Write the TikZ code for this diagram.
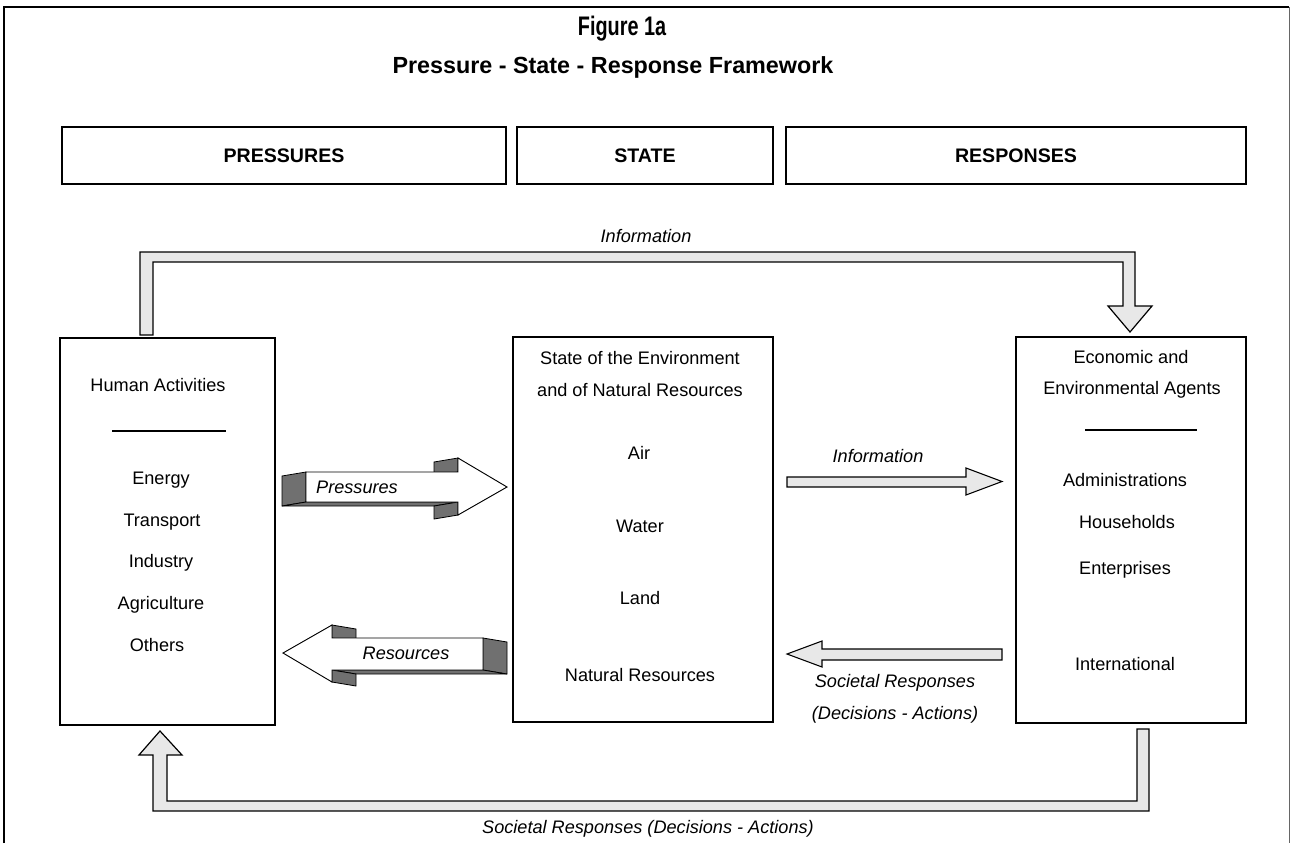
\documentclass[tikz,border=0pt]{standalone}
\usepackage{fontspec}
\setmainfont{Liberation Sans}
\definecolor{lightfill}{HTML}{E8E8E8}
\definecolor{darkface}{HTML}{707070}
\begin{document}
\begin{tikzpicture}[x=0.75pt,y=-0.75pt,
  txt/.style={font=\fontsize{13.6}{16}\selectfont, inner sep=0pt},
  itx/.style={font=\fontsize{13.6}{16}\selectfont\itshape, inner sep=0pt},
  ttl/.style={font=\fontsize{17.5}{20}\selectfont\bfseries, inner sep=0pt},
  hdr/.style={draw, line width=0.9pt, font=\fontsize{14.7}{17}\selectfont\bfseries, minimum height=42.75pt, inner sep=0pt},
  bigbox/.style={draw, line width=0.9pt, inner sep=0pt},
  blockarrow/.style={draw=black, line width=0.9pt, fill=lightfill, line join=miter},
  face/.style={draw=black, line width=0.6pt, fill=darkface, line join=miter},
  front/.style={draw=black, line width=0.7pt, fill=white, line join=miter},
  rulel/.style={line width=0.8pt}]
\useasboundingbox (0,0) rectangle (1291,843);
% outer frame
\draw[line width=1.1pt] (4,843) -- (4,7) -- (1289,7);
\draw[line width=0.6pt, black!60] (1289,7) -- (1289,843);

% titles
\node[ttl] (t1) at (622,29) {\scalebox{0.85}[1.15]{Figure 1a}};
\node[ttl] (t2) at (613,67) {Pressure - State - Response Framework};

% headers
\node[hdr, minimum width=333pt] (hp) at (284,155.5) {PRESSURES};
\node[hdr, minimum width=192pt] (hs) at (645,155.5) {STATE};
\node[hdr, minimum width=345pt] (hr) at (1016,155.5) {RESPONSES};

% main boxes
\node[bigbox, minimum width=161.25pt, minimum height=290.25pt] (L) at (167.5,531.5) {};
\node[bigbox, minimum width=195pt, minimum height=288.75pt] (M) at (643,529.5) {};
\node[bigbox, minimum width=172.5pt, minimum height=289.5pt] (R) at (1131,530) {};

% left box text
\node[txt] (la) at (158,385) {Human Activities};
\coordinate (lr1) at (112,431); \coordinate (lr2) at (226,431);
\draw[rulel] (lr1) -- (lr2);
\node[txt] (l1) at (161,480) {Energy};
\node[txt] (l2) at (162,522) {Transport};
\node[txt] (l3) at (161,563) {Industry};
\node[txt] (l4) at (161,605) {Agriculture};
\node[txt] (l5) at (157,645) {Others};

% middle box text
\node[txt] (ma) at (640,358) {State of the Environment};
\node[txt] (mb) at (640,390) {and of Natural Resources};
\node[txt] (m1) at (639,453) {Air};
\node[txt] (m2) at (640,526) {Water};
\node[txt] (m3) at (640,598) {Land};
\node[txt] (m4) at (640,675) {Natural Resources};

% right box text
\node[txt] (ra) at (1131,357) {Economic and};
\node[txt] (rb) at (1132,390) {Environmental Agents};
\coordinate (rr1) at (1085,430); \coordinate (rr2) at (1197,430);
\draw[rulel] (rr1) -- (rr2);
\node[txt] (r1) at (1125,480) {Administrations};
\node[txt] (r2) at (1127,522) {Households};
\node[txt] (r3) at (1125,570) {Enterprises};
\node[txt] (r4) at (1125,664) {International};

% top information loop
\draw[blockarrow] (140,335) -- (140,252) -- (1135,252) -- (1135,306) -- (1152,306)
  -- (1130,332) -- (1108,306) -- (1123,306) -- (1123,262) -- (153,262) -- (153,335) -- cycle;
\node[itx] (it) at (646,236) {Information};

% bottom societal responses loop
\draw[blockarrow] (1137,729) -- (1149,729) -- (1149,811) -- (153,811) -- (153,755)
  -- (139,755) -- (160,731) -- (182,755) -- (167,755) -- (167,801) -- (1137,801) -- cycle;
\node[itx] (ib) at (648,829) {Societal Responses (Decisions - Actions)};

% Pressures 3D arrow
\draw[face] (306,472) -- (306,502) -- (282,506) -- (282,476) -- cycle;
\draw[face] (306,502) -- (458,502) -- (434,506) -- (282,506) -- cycle;
\draw[face] (458,458) -- (458,472) -- (434,476) -- (434,462) -- cycle;
\draw[face] (458,502) -- (458,515) -- (434,519) -- (434,506) -- cycle;
\draw[front] (306,472) -- (458,472) -- (458,458) -- (507,487) -- (458,515) -- (458,502) -- (306,502) -- cycle;
\node[itx] (pp) at (357,487) {Pressures};

% Resources 3D arrow
\draw[face] (483,638) -- (507,642) -- (507,674) -- (483,670) -- cycle;
\draw[face] (332,670) -- (483,670) -- (507,674) -- (356,674) -- cycle;
\draw[face] (332,625) -- (356,629) -- (356,642) -- (332,638) -- cycle;
\draw[face] (332,670) -- (356,674) -- (356,686) -- (332,682) -- cycle;
\draw[front] (483,638) -- (332,638) -- (332,625) -- (283,653) -- (332,682) -- (332,670) -- (483,670) -- cycle;
\node[itx] (rs) at (406,653) {Resources};

% middle information arrow
\draw[blockarrow, line width=0.8pt] (787,477) -- (966,477) -- (966,468) -- (1002,481.5) -- (966,495) -- (966,487) -- (787,487) -- cycle;
\node[itx] (im) at (878,456) {Information};

% middle societal responses arrow
\draw[blockarrow, line width=0.8pt] (1002,649) -- (822,649) -- (822,641) -- (787,654) -- (822,667) -- (822,660) -- (1002,660) -- cycle;
\node[itx] (s1) at (895,683) {Societal Responses};
\node[itx] (s2) at (895,715) {(Decisions - Actions)};
\end{tikzpicture}
\end{document}
